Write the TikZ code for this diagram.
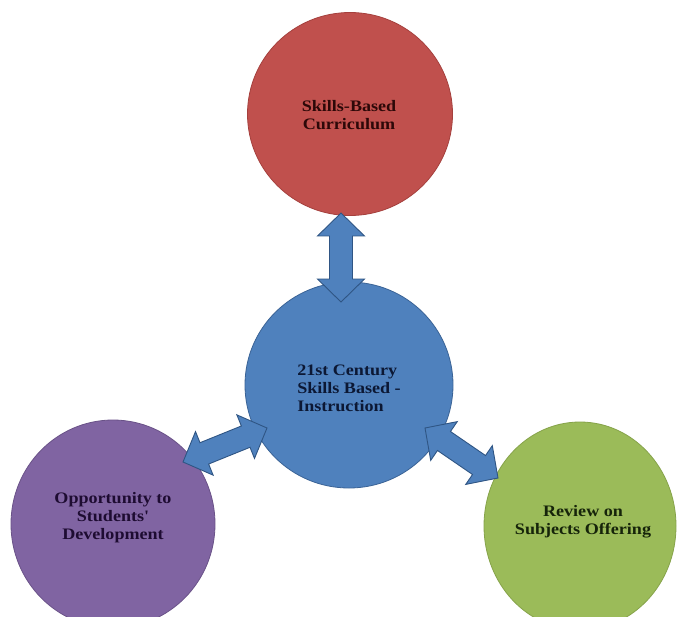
\documentclass[tikz,border=0pt]{standalone}
\usepackage{fontspec}
\newfontfamily\lblfont[FakeStretch=1.13]{Liberation Serif}
\usetikzlibrary{shapes.geometric,calc}
\definecolor{redc}{HTML}{C0504D}
\definecolor{redd}{HTML}{A5403D}
\definecolor{bluec}{HTML}{4F81BD}
\definecolor{blued}{HTML}{3A6396}
\definecolor{purc}{HTML}{8064A2}
\definecolor{purd}{HTML}{6A5288}
\definecolor{grnc}{HTML}{9BBB59}
\definecolor{grnd}{HTML}{86A34A}
\definecolor{arrd}{HTML}{2F5584}
\tikzset{
  blob/.style={ellipse, line width=0.8pt, inner sep=0pt},
  lbl/.style={font=\lblfont\bfseries\fontsize{16}{18}\selectfont, inner sep=0pt},
  blockarrow/.style={fill=bluec, draw=arrd, line width=0.9pt, line join=miter}
}
\newcommand\dblarr[2]{%
  \draw[blockarrow] (#1)
    -- ($(#1)!32.88pt!45.62:(#2)$)
    -- ($(#1)!25.71pt!26.57:(#2)$)
    -- ($(#2)!25.71pt!-26.57:(#1)$)
    -- ($(#2)!32.88pt!-45.62:(#1)$)
    -- (#2)
    -- ($(#2)!32.88pt!45.62:(#1)$)
    -- ($(#2)!25.71pt!26.57:(#1)$)
    -- ($(#1)!25.71pt!-26.57:(#2)$)
    -- ($(#1)!32.88pt!-45.62:(#2)$)
    -- cycle;}
\begin{document}
\begin{tikzpicture}[x=1pt,y=-1pt]
\useasboundingbox (0,0) rectangle (677,616);
\clip (0,0) rectangle (677,616);
\fill[white] (0,0) rectangle (677,616);
% circles
\node[blob, fill=redc, draw=redd, minimum width=205pt, minimum height=203pt] (red) at (350,114) {};
\node[blob, fill=bluec, draw=blued, minimum width=208pt, minimum height=206pt] (blue) at (349,385) {};
\node[blob, fill=purc, draw=purd, minimum width=204pt, minimum height=208pt] (pur) at (113,524) {};
\node[blob, fill=grnc, draw=grnd, minimum width=192pt, minimum height=208pt] (grn) at (580,526) {};
% arrow end points
\coordinate (va) at (341,213);
\coordinate (vb) at (341,302);
\coordinate (la) at (183,462);
\coordinate (lb) at (267,428);
\coordinate (ra) at (425,428);
\coordinate (rb) at (498,478);
\dblarr{va}{vb}
\dblarr{la}{lb}
\dblarr{ra}{rb}
% labels
\node[lbl, align=center, text={rgb,255:red,45;green,8;blue,8}] (tred) at (349,115) {Skills-Based\\Curriculum};
\node[lbl, align=left, text={rgb,255:red,12;green,24;blue,52}] (tblue) at (349,388) {21st Century\\Skills Based -\\Instruction};
\node[lbl, align=center, text={rgb,255:red,30;green,12;blue,50}] (tpur) at (113,518) {Opportunity to\\Students'\\Development};
\node[lbl, align=center, text={rgb,255:red,22;green,36;blue,10}] (tgrn) at (583,522) {Review on\\Subjects Offering};
\end{tikzpicture}
\end{document}
